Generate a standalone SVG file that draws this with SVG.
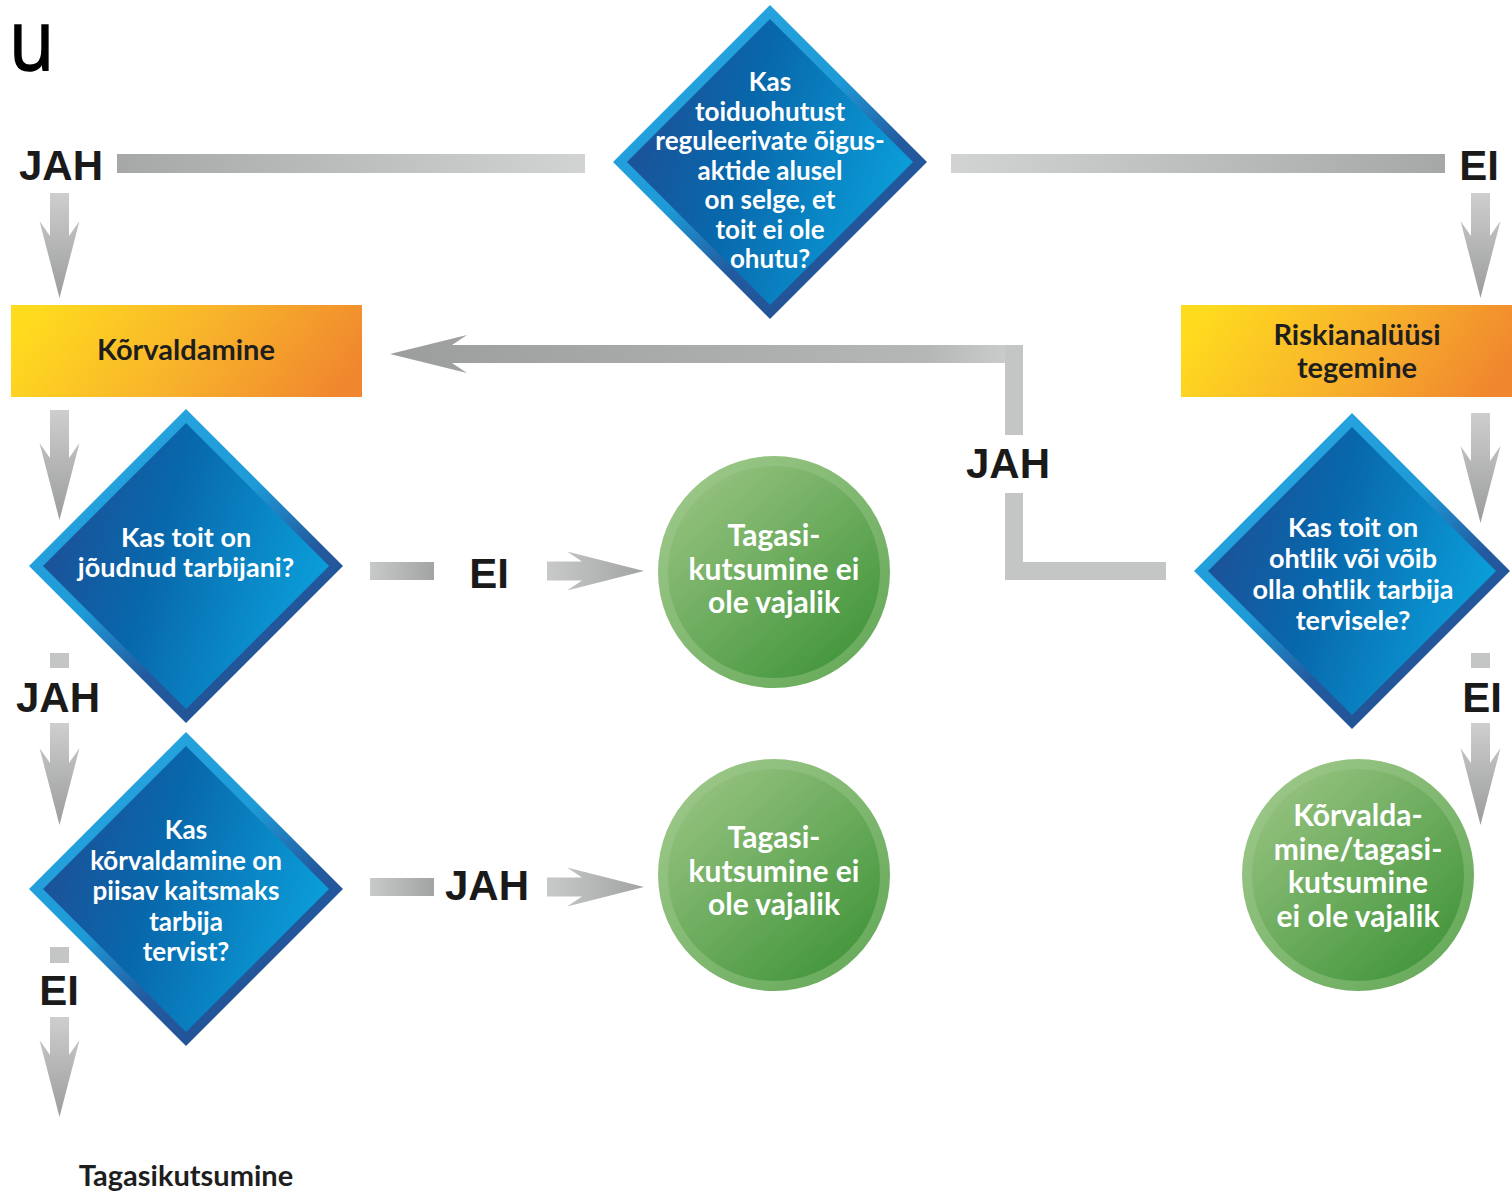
<svg xmlns="http://www.w3.org/2000/svg" width="1512" height="1194" viewBox="0 0 1512 1194">
<defs>
<style>
.nt{font-family:Lato,"Noto Sans",sans-serif;font-weight:700;fill:#ffffff;text-anchor:middle}
.d{font-size:27px}
.ds{font-size:26px}
.c{font-size:30px}
.ot{font-family:Lato,"Noto Sans",sans-serif;font-weight:700;fill:#1e1e1e;text-anchor:middle;font-size:29px}
.lb{font-family:"Liberation Sans",Arial,sans-serif;font-weight:700;fill:#1a1a1a;text-anchor:middle;font-size:42px}
.band{fill:url(#gBand)}
.inner{fill:url(#gInner)}
.cout{fill:url(#gCOut)}
.cin{fill:url(#gCIn)}
.gv{fill:url(#gVert)}
.gh{fill:url(#gHor)}
.gs{fill:#c4c5c5}
</style>
<linearGradient id="gBand" x1="0" y1="0" x2="0.75" y2="1">
<stop offset="0" stop-color="#2cabe3"/>
<stop offset="0.5" stop-color="#1e9ad7"/>
<stop offset="0.72" stop-color="#235a9f"/>
<stop offset="1" stop-color="#234f91"/>
</linearGradient>
<linearGradient id="gInner" x1="0" y1="0.3" x2="1" y2="0.6">
<stop offset="0" stop-color="#1f4f96"/>
<stop offset="0.4" stop-color="#0867ab"/>
<stop offset="1" stop-color="#0ba1dc"/>
</linearGradient>
<linearGradient id="gOrange" x1="0" y1="0.4" x2="1" y2="0.6">
<stop offset="0" stop-color="#ffdb1e"/>
<stop offset="0.5" stop-color="#f8b42b"/>
<stop offset="1" stop-color="#f0872e"/>
</linearGradient>
<linearGradient id="gCOut" x1="0.1" y1="0.1" x2="0.9" y2="0.9">
<stop offset="0" stop-color="#9cc788"/>
<stop offset="1" stop-color="#67aa5b"/>
</linearGradient>
<linearGradient id="gCIn" x1="0.15" y1="0.1" x2="0.85" y2="0.9">
<stop offset="0" stop-color="#92c07c"/>
<stop offset="1" stop-color="#45973e"/>
</linearGradient>
<linearGradient id="gVert" x1="0" y1="0" x2="0" y2="1">
<stop offset="0" stop-color="#cdcecd"/>
<stop offset="1" stop-color="#9b9c9c"/>
</linearGradient>
<linearGradient id="gHor" x1="0" y1="0" x2="1" y2="0">
<stop offset="0" stop-color="#c8c9c9"/>
<stop offset="1" stop-color="#a2a3a3"/>
</linearGradient>
<linearGradient id="gBarL" x1="0" y1="0" x2="1" y2="0">
<stop offset="0" stop-color="#a6a7a7"/>
<stop offset="1" stop-color="#d2d3d3"/>
</linearGradient>
<linearGradient id="gBarR" x1="0" y1="0" x2="1" y2="0">
<stop offset="0" stop-color="#d2d3d3"/>
<stop offset="1" stop-color="#a6a7a7"/>
</linearGradient>
<linearGradient id="gBack" x1="0" y1="0" x2="1" y2="0">
<stop offset="0" stop-color="#9c9d9d"/>
<stop offset="0.85" stop-color="#b5b6b6"/>
<stop offset="1" stop-color="#cfd0d0"/>
</linearGradient>
</defs>
<rect x="0" y="0" width="1512" height="1194" fill="#ffffff"/>

<text transform="translate(9,70) scale(0.88,1)" font-family="'Open Sans',sans-serif" font-size="84" fill="#000000" stroke="#000000" stroke-width="1.5">u</text>

<g id="connectors">
<rect x="117" y="154" width="468" height="19" fill="url(#gBarL)"/>
<rect x="951" y="154" width="494" height="19" fill="url(#gBarR)"/>
<text class="lb" x="61" y="180">JAH</text>
<text class="lb" x="1479" y="180" font-size="40">EI</text>
<polygon class="gv" points="50,193 69,193 69,236 79.5,221 59.5,298 39.5,221 50,236"/>
<polygon class="gv" points="1471,193 1490,193 1490,236 1500.5,221 1480.5,298 1460.5,221 1471,236"/>
<polygon class="gv" points="50,410 69,410 69,458 79.5,443 59.5,520 39.5,443 50,458"/>
<polygon class="gv" points="1471,413 1490,413 1490,461 1500.5,446 1480.5,523 1460.5,446 1471,461"/>
<polygon fill="url(#gBack)" points="1023,345 1023,363 452,363 467,373 390,354 467,335 452,345"/>
<rect class="gs" x="1005" y="345" width="18" height="90"/>
<text class="lb" x="1008" y="478">JAH</text>
<rect class="gs" x="1005" y="493" width="18" height="87"/>
<rect class="gs" x="1005" y="562" width="161" height="18"/>
<rect class="gs" x="50" y="653" width="19" height="15"/>
<text class="lb" x="58" y="712">JAH</text>
<polygon class="gv" points="50,723 69,723 69,763 79.5,748 59.5,825 39.5,748 50,763"/>
<rect class="gs" x="50" y="947" width="19" height="16"/>
<text class="lb" x="59" y="1005" font-size="40">EI</text>
<polygon class="gv" points="50,1017 69,1017 69,1055 79.5,1040 59.5,1117 39.5,1040 50,1055"/>
<rect class="gs" x="1471" y="653" width="19" height="15"/>
<text class="lb" x="1482" y="712" font-size="40">EI</text>
<polygon class="gv" points="1471,723 1490,723 1490,763 1500.5,748 1480.5,825 1460.5,748 1471,763"/>
<rect x="370" y="562" width="64" height="18" fill="url(#gHor)"/>
<text class="lb" x="489" y="588" font-size="40">EI</text>
<polygon class="gh" points="547,561.5 582,561.5 567,551.5 644,571 567,590.5 582,580.5 547,580.5"/>
<rect x="370" y="878" width="64" height="18" fill="url(#gHor)"/>
<text class="lb" x="487" y="900">JAH</text>
<polygon class="gh" points="547,877.5 582,877.5 567,867.5 644,887 567,906.5 582,896.5 547,896.5"/>
</g>

<g id="node-q1">
<polygon class="band" points="770,5 927,162 770,319 613,162"/>
<polygon class="inner" points="770,19 913,162 770,305 627,162"/>
<text class="nt ds" x="770" y="91">Kas</text>
<text class="nt ds" x="770" y="120.5">toiduohutust</text>
<text class="nt ds" x="770" y="150">reguleerivate õigus-</text>
<text class="nt ds" x="770" y="179.5">aktide alusel</text>
<text class="nt ds" x="770" y="209">on selge, et</text>
<text class="nt ds" x="770" y="238.5">toit ei ole</text>
<text class="nt ds" x="770" y="268">ohutu?</text>
</g>

<g id="node-korvaldamine">
<rect x="11" y="305" width="351" height="92" fill="url(#gOrange)"/>
<text class="ot" x="186" y="360">Kõrvaldamine</text>
</g>

<g id="node-riskianaluus">
<rect x="1181" y="305" width="331" height="92" fill="url(#gOrange)"/>
<text class="ot" x="1357" y="345">Riskianalüüsi</text>
<text class="ot" x="1357" y="378">tegemine</text>
</g>

<g id="node-q2">
<polygon class="band" points="186,409 343,566 186,723 29,566"/>
<polygon class="inner" points="186,423 329,566 186,709 43,566"/>
<text class="nt d" x="186" y="547">Kas toit on</text>
<text class="nt d" x="186" y="577">jõudnud tarbijani?</text>
</g>

<g id="node-q3">
<polygon class="band" points="186,732 343,889 186,1046 29,889"/>
<polygon class="inner" points="186,746 329,889 186,1032 43,889"/>
<text class="nt ds" x="186" y="839">Kas</text>
<text class="nt ds" x="186" y="869.5">kõrvaldamine on</text>
<text class="nt ds" x="186" y="900">piisav kaitsmaks</text>
<text class="nt ds" x="186" y="930.5">tarbija</text>
<text class="nt ds" x="186" y="961">tervist?</text>
</g>

<g id="node-q4">
<polygon class="band" points="1352,413 1510,571 1352,729 1194,571"/>
<polygon class="inner" points="1352,427 1496,571 1352,715 1208,571"/>
<text class="nt d" x="1353" y="537">Kas toit on</text>
<text class="nt d" x="1353" y="568">ohtlik või võib</text>
<text class="nt d" x="1353" y="599">olla ohtlik tarbija</text>
<text class="nt d" x="1353" y="630">tervisele?</text>
</g>

<g id="node-c1">
<circle class="cout" cx="774" cy="572" r="116"/>
<circle class="cin" cx="774" cy="572" r="106"/>
<text class="nt c" x="774" y="546">Tagasi-</text>
<text class="nt c" x="774" y="580">kutsumine ei</text>
<text class="nt c" x="774" y="613">ole vajalik</text>
</g>

<g id="node-c2">
<circle class="cout" cx="774" cy="875" r="116"/>
<circle class="cin" cx="774" cy="875" r="106"/>
<text class="nt c" x="774" y="848">Tagasi-</text>
<text class="nt c" x="774" y="882">kutsumine ei</text>
<text class="nt c" x="774" y="915">ole vajalik</text>
</g>

<g id="node-c3">
<circle class="cout" cx="1358" cy="875" r="116"/>
<circle class="cin" cx="1358" cy="875" r="106"/>
<text class="nt c" x="1358" y="826">Kõrvalda-</text>
<text class="nt c" x="1358" y="860">mine/tagasi-</text>
<text class="nt c" x="1358" y="893">kutsumine</text>
<text class="nt c" x="1358" y="927">ei ole vajalik</text>
</g>

<g id="node-tagasikutsumine">
<text class="ot" x="186" y="1186">Tagasikutsumine</text>
</g>
</svg>
